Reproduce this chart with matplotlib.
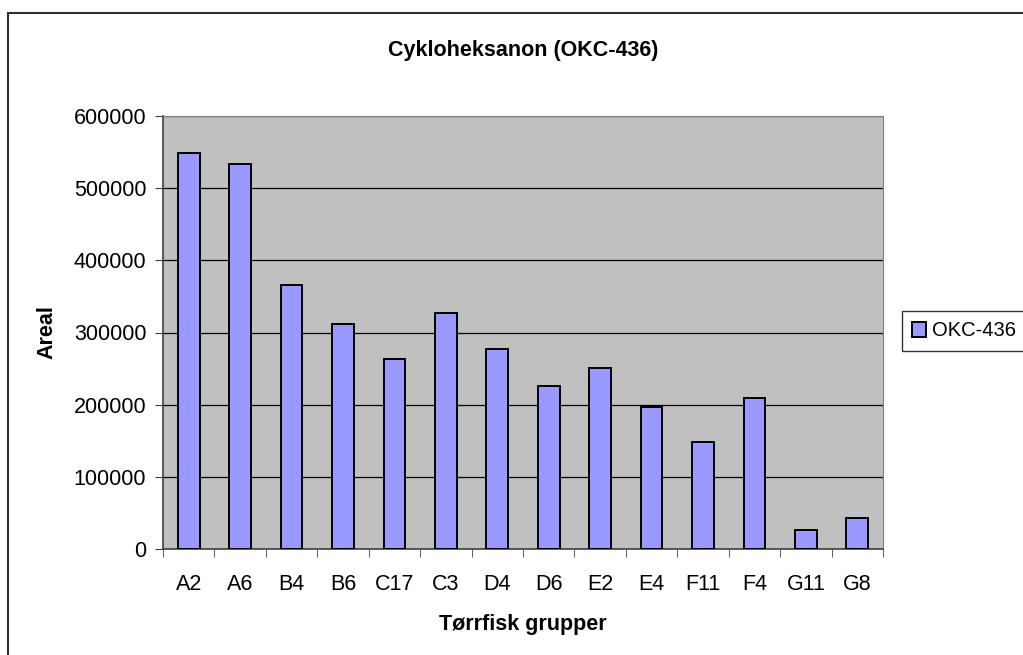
import numpy as np
import matplotlib.pyplot as plt
from matplotlib.patches import Rectangle

groups = ['A2', 'A6', 'B4', 'B6', 'C17', 'C3', 'D4', 'D6', 'E2', 'E4', 'F11', 'F4', 'G11', 'G8']
areal = [548500, 533500, 365500, 311500, 263000, 327000, 277500, 226000, 251000, 197000, 148000, 209500, 26500, 43500]
y_ticks = [0, 100000, 200000, 300000, 400000, 500000, 600000]

plt.rcParams['font.family'] = ['Liberation Sans', 'DejaVu Sans']

fig = plt.figure(figsize=(10.23, 6.55), dpi=100)
ax = fig.add_axes([163 / 1023, 1 - 549 / 655, 720 / 1023, 433 / 655])

x = np.arange(len(groups))
ax.bar(x, areal, width=0.42, color='#9999FF', edgecolor='black', linewidth=1.4,
       label='OKC-436', zorder=3)

ax.set_facecolor('#C0C0C0')
ax.set_xlim(-0.5, len(groups) - 0.5)
ax.set_ylim(0, 600000)
ax.set_yticks(y_ticks)
ax.set_yticklabels([str(v) for v in y_ticks], fontsize=15.5)
ax.yaxis.grid(True, color='black', linewidth=0.9, zorder=1)
ax.set_axisbelow(True)

ax.set_xticks(x)
ax.set_xticklabels(groups, fontsize=15.5)
ax.set_xticks(np.arange(len(groups) + 1) - 0.5, minor=True)
ax.tick_params(axis='x', which='major', length=0, pad=18)
ax.tick_params(axis='x', which='minor', length=6, direction='out', color='#404040')
ax.tick_params(axis='y', length=6, direction='out', color='#404040', pad=6)

for s in ['top', 'right']:
    ax.spines[s].set_color('#808080')
for s in ['left', 'bottom']:
    ax.spines[s].set_color('#404040')
    ax.spines[s].set_linewidth(1.2)

ax.set_title('Cykloheksanon (OKC-436)', fontsize=15.5, fontweight='bold', pad=43)
ax.set_xlabel('Tørrfisk grupper', fontsize=15.5, fontweight='bold', labelpad=14)
ax.set_ylabel('Areal', fontsize=15.5, fontweight='bold', labelpad=12)

fig.legend(loc='center left', bbox_to_anchor=(902 / 1023, 1 - 331 / 655),
           fontsize=14.5, frameon=True, fancybox=False, edgecolor='black',
           handlelength=0.7, handleheight=0.7, handletextpad=0.3,
           borderpad=0.5, borderaxespad=0)

fig.patches.append(Rectangle((8 / 1023, -0.1), 1.2, 1 - 13 / 655 + 0.1,
                             transform=fig.transFigure, fill=False,
                             edgecolor='#303030', linewidth=1.5))

fig.savefig('out.png', dpi=100)
